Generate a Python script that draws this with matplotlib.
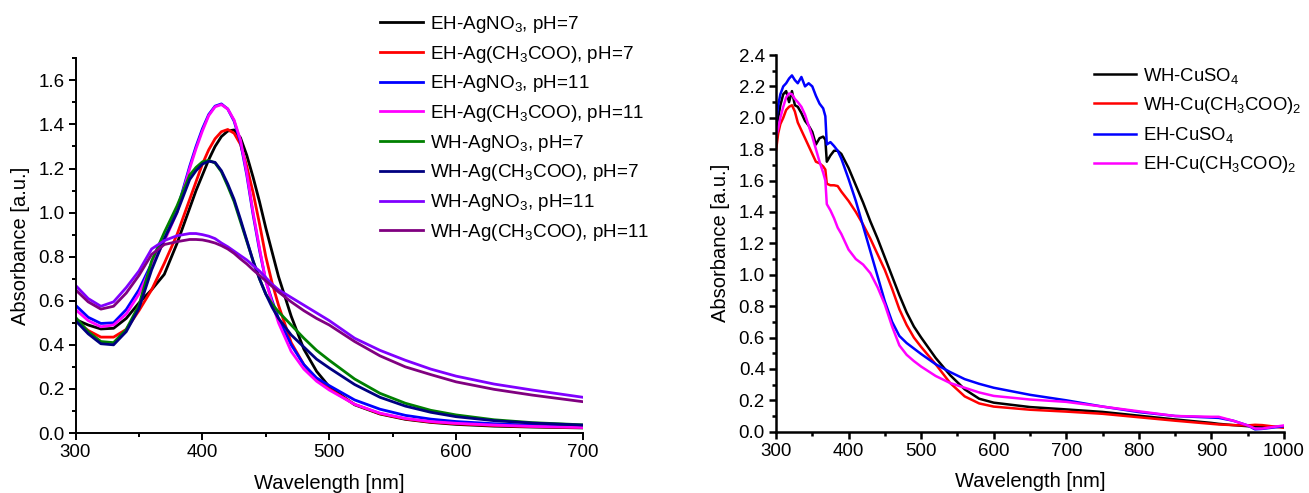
import matplotlib
matplotlib.use("Agg")
import matplotlib.pyplot as plt
from matplotlib.ticker import MultipleLocator

plt.rcParams['font.family'] = ['Liberation Sans', 'DejaVu Sans']
plt.rcParams['mathtext.default'] = 'regular'

# ---------------- Left panel: Ag spectra ----------------
wl_ag = [300, 310, 320, 330, 340, 350, 360, 370, 380, 390, 395, 400, 405, 410, 415, 420,
         425, 430, 435, 440, 445, 450, 455, 460, 470, 480, 490, 500, 520, 540, 560, 580,
         600, 630, 660, 700]

eh_agno3_ph7 = [0.515, 0.49, 0.472, 0.475, 0.52, 0.59, 0.65, 0.72, 0.86, 1.02, 1.10, 1.17, 1.24,
                1.30, 1.345, 1.37, 1.375, 1.34, 1.26, 1.16, 1.05, 0.93, 0.82, 0.71, 0.53, 0.38,
                0.28, 0.21, 0.128, 0.086, 0.062, 0.048, 0.039, 0.031, 0.027, 0.023]
eh_agac_ph7 = [0.51, 0.465, 0.435, 0.435, 0.47, 0.555, 0.65, 0.77, 0.90, 1.06, 1.14, 1.22, 1.285,
               1.335, 1.367, 1.377, 1.36, 1.31, 1.21, 1.09, 0.95, 0.80, 0.68, 0.58, 0.41, 0.31,
               0.245, 0.2, 0.13, 0.088, 0.064, 0.05, 0.042, 0.034, 0.029, 0.025]
eh_agno3_ph11 = [0.58, 0.525, 0.497, 0.50, 0.56, 0.65, 0.77, 0.88, 1.01, 1.21, 1.30, 1.38, 1.445,
                 1.483, 1.493, 1.47, 1.415, 1.32, 1.17, 0.99, 0.83, 0.69, 0.60, 0.52, 0.40, 0.31,
                 0.25, 0.215, 0.15, 0.108, 0.08, 0.063, 0.052, 0.042, 0.035, 0.029]
eh_agac_ph11 = [0.56, 0.51, 0.482, 0.49, 0.54, 0.63, 0.76, 0.87, 1.0, 1.2, 1.29, 1.37, 1.44,
                1.48, 1.49, 1.47, 1.42, 1.33, 1.18, 1.0, 0.84, 0.69, 0.59, 0.50, 0.37, 0.29,
                0.235, 0.195, 0.13, 0.09, 0.066, 0.052, 0.044, 0.036, 0.03, 0.025]
wh_agno3_ph7 = [0.525, 0.46, 0.415, 0.41, 0.47, 0.58, 0.78, 0.91, 1.03, 1.17, 1.205, 1.23, 1.237,
                1.225, 1.185, 1.12, 1.05, 0.96, 0.87, 0.78, 0.70, 0.63, 0.585, 0.55, 0.49, 0.43,
                0.375, 0.33, 0.245, 0.18, 0.135, 0.103, 0.082, 0.06, 0.047, 0.037]
wh_agac_ph7 = [0.51, 0.45, 0.405, 0.40, 0.46, 0.565, 0.74, 0.88, 1.0, 1.15, 1.19, 1.22, 1.233,
               1.228, 1.19, 1.13, 1.06, 0.97, 0.875, 0.78, 0.70, 0.63, 0.57, 0.52, 0.445, 0.39,
               0.335, 0.295, 0.22, 0.162, 0.122, 0.094, 0.074, 0.056, 0.045, 0.036]
wh_agno3_ph11 = [0.67, 0.61, 0.575, 0.595, 0.66, 0.735, 0.835, 0.873, 0.895, 0.905, 0.905, 0.90,
                 0.893, 0.882, 0.862, 0.845, 0.825, 0.805, 0.785, 0.76, 0.735, 0.705, 0.675, 0.65,
                 0.615, 0.58, 0.545, 0.51, 0.43, 0.375, 0.33, 0.29, 0.258, 0.222, 0.195, 0.162]
wh_agac_ph11 = [0.65, 0.595, 0.562, 0.575, 0.635, 0.715, 0.81, 0.855, 0.868, 0.878, 0.878, 0.876,
                0.87, 0.862, 0.85, 0.835, 0.815, 0.79, 0.767, 0.74, 0.715, 0.69, 0.665, 0.64,
                0.595, 0.555, 0.52, 0.49, 0.415, 0.35, 0.30, 0.265, 0.232, 0.198, 0.172, 0.142]

ag_labels = ['EH-AgNO$_3$, pH=7', 'EH-Ag(CH$_3$COO), pH=7', 'EH-AgNO$_3$, pH=11',
             'EH-Ag(CH$_3$COO), pH=11', 'WH-AgNO$_3$, pH=7', 'WH-Ag(CH$_3$COO), pH=7',
             'WH-AgNO$_3$, pH=11', 'WH-Ag(CH$_3$COO), pH=11']
ag_series = [eh_agno3_ph7, eh_agac_ph7, eh_agno3_ph11, eh_agac_ph11,
             wh_agno3_ph7, wh_agac_ph7, wh_agno3_ph11, wh_agac_ph11]
ag_colors = ['#000000', '#ff0000', '#0000ff', '#ff00ff', '#008000', '#000080', '#8000ff', '#800080']

# ---------------- Right panel: Cu spectra ----------------
wl_cu = [300, 303, 306, 310, 314, 318, 322, 326, 330, 335, 340, 345, 350, 355, 360, 365, 368,
         370, 375, 380, 385, 390, 400, 410, 420, 430, 440, 450, 460, 470, 480, 490, 500, 520,
         540, 560, 580, 600, 650, 700, 750, 800, 850, 900, 910, 930, 950, 960, 970, 1000]

wh_cuso4 = [1.93, 2.0, 2.08, 2.15, 2.17, 2.10, 2.17, 2.08, 2.07, 2.03, 1.98, 1.95, 1.91, 1.83,
            1.87, 1.88, 1.86, 1.72, 1.76, 1.79, 1.79, 1.77, 1.68, 1.57, 1.46, 1.34, 1.23, 1.11,
            0.99, 0.87, 0.76, 0.67, 0.60, 0.47, 0.36, 0.27, 0.21, 0.185, 0.157, 0.142, 0.126,
            0.102, 0.078, 0.056, 0.05, 0.042, 0.035, 0.033, 0.032, 0.03]
wh_cuac = [1.79, 1.9, 1.96, 2.0, 2.05, 2.07, 2.08, 2.04, 1.97, 1.92, 1.87, 1.82, 1.77, 1.72,
           1.71, 1.69, 1.67, 1.58, 1.57, 1.57, 1.565, 1.53, 1.47, 1.40, 1.32, 1.23, 1.13, 1.03,
           0.91, 0.78, 0.68, 0.60, 0.54, 0.43, 0.31, 0.225, 0.18, 0.16, 0.14, 0.128, 0.114,
           0.092, 0.07, 0.05, 0.046, 0.042, 0.04, 0.044, 0.042, 0.025]
eh_cuso4 = [1.97, 2.08, 2.15, 2.2, 2.22, 2.25, 2.27, 2.24, 2.22, 2.26, 2.2, 2.22, 2.2, 2.14,
            2.09, 2.06, 2.01, 1.83, 1.845, 1.82, 1.79, 1.74, 1.61, 1.47, 1.31, 1.15, 0.99, 0.83,
            0.70, 0.61, 0.565, 0.53, 0.495, 0.43, 0.38, 0.335, 0.305, 0.28, 0.235, 0.2, 0.16,
            0.125, 0.1, 0.09, 0.088, 0.07, 0.04, 0.015, 0.018, 0.035]
eh_cuac = [1.88, 1.93, 2.0, 2.07, 2.13, 2.155, 2.15, 2.12, 2.1, 2.07, 2.02, 1.95, 1.88, 1.8,
           1.72, 1.65, 1.6, 1.45, 1.41, 1.36, 1.3, 1.26, 1.16, 1.1, 1.065, 1.01, 0.92, 0.81,
           0.67, 0.55, 0.49, 0.45, 0.415, 0.355, 0.31, 0.28, 0.25, 0.228, 0.205, 0.19, 0.16,
           0.13, 0.1, 0.095, 0.095, 0.07, 0.04, 0.02, 0.02, 0.04]

cu_labels = ['WH-CuSO$_4$', 'WH-Cu(CH$_3$COO)$_2$', 'EH-CuSO$_4$', 'EH-Cu(CH$_3$COO)$_2$']
cu_series = [wh_cuso4, wh_cuac, eh_cuso4, eh_cuac]
cu_colors = ['#000000', '#ff0000', '#0000ff', '#ff00ff']

W, H = 1309, 493
fig = plt.figure(figsize=(W / 100, H / 100), dpi=100)

def style(ax, ymax, ymajor, lw):
    for s in ['top', 'right']:
        ax.spines[s].set_visible(False)
    for s in ['left', 'bottom']:
        ax.spines[s].set_linewidth(lw)
    ax.xaxis.set_major_locator(MultipleLocator(100))
    ax.xaxis.set_minor_locator(MultipleLocator(50))
    ax.yaxis.set_major_locator(MultipleLocator(ymajor))
    ax.yaxis.set_minor_locator(MultipleLocator(ymajor / 2))
    ax.tick_params(which='major', direction='out', length=5, width=lw, labelsize=13.5, pad=3)
    ax.tick_params(which='minor', direction='out', length=3, width=lw)
    ax.set_ylim(0, ymax)
    ax.set_xlabel('Wavelength [nm]', fontsize=14.5, labelpad=9)
    ax.set_ylabel('Absorbance [a.u.]', fontsize=14.5, labelpad=6)
    ax.yaxis.set_major_formatter(matplotlib.ticker.FormatStrFormatter('%.1f'))

ax1 = fig.add_axes([75.5 / W, 1 - 433 / H, (583 - 75.5) / W, (433 - 58.3) / H])
for y, c, lab in zip(ag_series, ag_colors, ag_labels):
    ax1.plot(wl_ag, y, color=c, lw=2.0, label=lab)
ax1.set_xlim(300, 700)
style(ax1, 1.70, 0.2, 1.4)
ax1.legend(loc='upper left', bbox_to_anchor=(380 / W, 1 - 14 / H), bbox_transform=fig.transFigure,
           frameon=False, borderpad=0, borderaxespad=0, handlelength=2.3, handletextpad=0.33,
           labelspacing=0.46, fontsize=13.6)

ax2 = fig.add_axes([776 / W, 1 - 431.7 / H, (1284 - 776) / W, (431.7 - 55) / H])
for y, c, lab in zip(cu_series, cu_colors, cu_labels):
    ax2.plot(wl_cu, y, color=c, lw=1.8, label=lab)
ax2.set_xlim(300, 1000)
style(ax2, 2.4, 0.2, 1.8)
ax2.legend(loc='upper left', bbox_to_anchor=(1094 / W, 1 - 65.5 / H), bbox_transform=fig.transFigure,
           frameon=False, borderpad=0, borderaxespad=0, handlelength=2.3, handletextpad=0.33,
           labelspacing=0.5, fontsize=13.3)

fig.savefig('out.png', dpi=100)
